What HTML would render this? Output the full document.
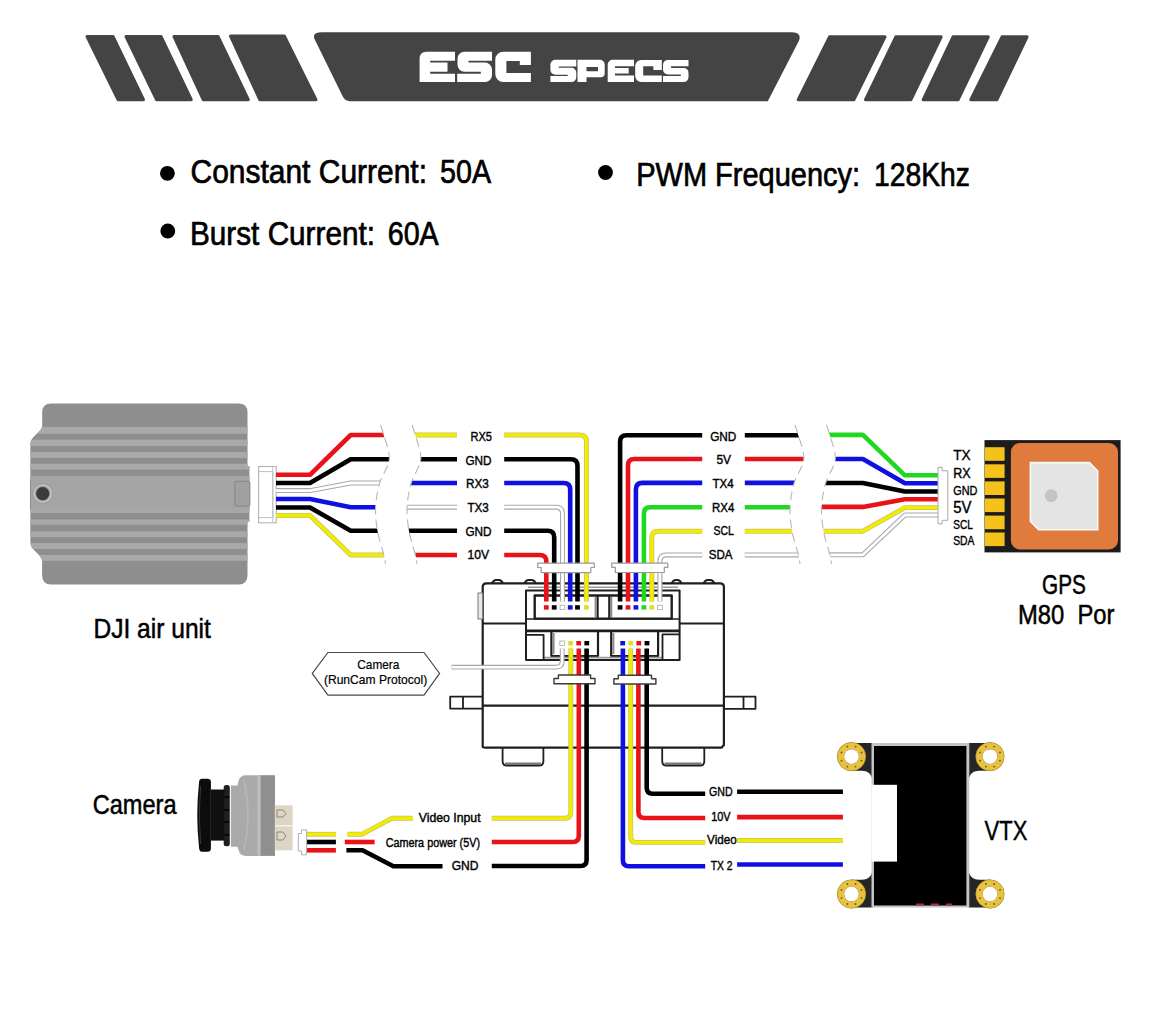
<!DOCTYPE html>
<html><head><meta charset="utf-8"><style>
html,body{margin:0;padding:0;background:#fff;width:1175px;height:1018px;overflow:hidden}
svg{display:block}
text{font-family:"Liberation Sans",sans-serif;fill:#000}
</style></head><body>
<svg width="1175" height="1018" viewBox="0 0 1175 1018">
<rect width="1175" height="1018" fill="#fff"/>
<!-- HEADER -->
<g fill="#444" stroke="#444" stroke-width="3" stroke-linejoin="round">
<polygon points="87,36.5 113,36.5 143.5,99.7 118,99.7"/>
<polygon points="126,36.5 161,36.5 191.3,99.7 156.5,99.7"/>
<polygon points="174,36.5 218,36.5 248.3,99.7 203.2,99.7"/>
<polygon points="230.5,36 284.3,36 316,99.7 259.8,99.7"/>
<polygon points="829.5,36.8 885,36.8 854,99.7 798.2,99.7"/>
<polygon points="895.8,36.8 941.2,36.8 911,99.7 865.5,99.7"/>
<polygon points="953,36.8 988.3,36.8 958.2,99.7 923.2,99.7"/>
<polygon points="1002,36.8 1027.1,36.8 997,99.7 970.8,99.7"/>
</g>
<path id="ctr" fill="#444" d="M322,32.3 H791 Q802.5,32.3 798.8,41 L767.8,101.2 H350 Q345,101.2 342.5,96 L315,40 Q311,32.3 322,32.3 Z"/>
<!-- ESC -->
<g fill="#fff">
<path d="M426.6,51.7 H455 V60.7 H430.2 V62.6 H447.5 V71.7 H430.2 V73.8 H455 V82.1 H419.6 V58.7 Q419.6,51.7 426.6,51.7 Z"/>
<path d="M464.5,51.7 H492 V60.7 H468.5 V62.6 H485 A7,7 0 0 1 492,69.6 V75.1 A7,7 0 0 1 485,82.1 H457.2 V73.8 H480.8 V71.7 H464.5 A7,7 0 0 1 457.5,64.7 V58.7 A7,7 0 0 1 464.5,51.7 Z"/>
<path d="M503.3,51.7 H530.9 V64.9 H519.8 V60.9 H506.4 V73.1 H530.9 V82.1 H503.3 A8,8 0 0 1 495.3,74.1 V59.7 A8,8 0 0 1 503.3,51.7 Z"/>
</g>
<!-- SPECS -->
<g fill="#fff">
<path d="M555.4,59.8 H576.3 V66.5 H558.7 V67.8 H571.3 A5,5 0 0 1 576.3,72.8 V77.1 A5,5 0 0 1 571.3,82.1 H550.4 V76 H567.7 V74.8 H555.4 A5,5 0 0 1 550.4,69.8 V64.8 A5,5 0 0 1 555.4,59.8 Z"/>
<path d="M577.5,59.8 H599.7 A5,5 0 0 1 604.7,64.8 V73.3 A4,4 0 0 1 600.7,77.3 H586.5 V82.1 H577.5 Z M586.5,67.1 V71.3 H598 V67.1 Z" fill-rule="evenodd"/>
<path d="M612.7,59.8 H634 V66.3 H615 V67.9 H628.7 V73.6 H615 V75.6 H634 V82.1 H607.7 V64.8 A5,5 0 0 1 612.7,59.8 Z"/>
<path d="M641.2,59.9 H661.8 V70 H653.4 V66.3 H643.2 V75.6 H661.8 V82.1 H641.2 A6,6 0 0 1 635.2,76.1 V65.9 A6,6 0 0 1 641.2,59.9 Z"/>
<path d="M668,59.9 H688.5 V66.3 H671.1 V67.9 H683.5 A5,5 0 0 1 688.5,72.9 V77.1 A5,5 0 0 1 683.5,82.1 H663 V76 H680.8 V74.4 H668 A5,5 0 0 1 663,69.4 V64.9 A5,5 0 0 1 668,59.9 Z"/>
</g>
<!-- BULLETS -->
<circle cx="167.4" cy="173.3" r="7.4" fill="#000"/>
<circle cx="167.8" cy="231" r="7.4" fill="#000"/>
<circle cx="605.5" cy="172.5" r="7.4" fill="#000"/>
<g style="font-size:33px" stroke="#000" stroke-width="0.7">
<text x="190.5" y="182.9" textLength="236.5" lengthAdjust="spacingAndGlyphs">Constant Current:</text>
<text x="440" y="182.9" textLength="51" lengthAdjust="spacingAndGlyphs">50A</text>
<text x="190" y="244.5" textLength="185" lengthAdjust="spacingAndGlyphs">Burst Current:</text>
<text x="387.7" y="244.5" textLength="51" lengthAdjust="spacingAndGlyphs">60A</text>
<text x="636.2" y="185.5" textLength="224" lengthAdjust="spacingAndGlyphs">PWM Frequency:</text>
<text x="874" y="185.5" textLength="96" lengthAdjust="spacingAndGlyphs">128Khz</text>
</g>

<defs><clipPath id="djic"><path d="M51.2,403.5 H238.5 Q247.5,403.5 247.5,412.5 V466 H249.4 V521.4 H247.5 V575.6 Q247.5,584.6 238.5,584.6 H51.1 Q42.1,584.6 42.1,575.6 V562 Q42.1,558 38,554 L33.5,549.5 Q30.4,546.5 30.4,542 V444 Q30.4,440 34,436.5 L38.5,432 Q42.2,429 42.2,426 V412.5 Q42.2,403.5 51.2,403.5 Z"/></clipPath></defs>
<path d="M51.2,403.5 H238.5 Q247.5,403.5 247.5,412.5 V466 H249.4 V521.4 H247.5 V575.6 Q247.5,584.6 238.5,584.6 H51.1 Q42.1,584.6 42.1,575.6 V562 Q42.1,558 38,554 L33.5,549.5 Q30.4,546.5 30.4,542 V444 Q30.4,440 34,436.5 L38.5,432 Q42.2,429 42.2,426 V412.5 Q42.2,403.5 51.2,403.5 Z" fill="#8e8e8e"/>
<g clip-path="url(#djic)">
<rect x="28" y="427" width="225" height="6.8" fill="#a9a9a9"/>
<rect x="28" y="439.7" width="225" height="6.4" fill="#a9a9a9"/>
<rect x="28" y="452" width="225" height="5.9" fill="#a9a9a9"/>
<rect x="28" y="463.8" width="225" height="5.9" fill="#a9a9a9"/>
<rect x="28" y="475.9" width="225" height="34.2" fill="#a9a9a9"/>
<rect x="28" y="510.1" width="225" height="2.9" fill="#a9a9a9"/>
<rect x="28" y="519.5" width="225" height="5.3" fill="#a9a9a9"/>
<rect x="28" y="531.3" width="225" height="5.9" fill="#a9a9a9"/>
<rect x="28" y="543.1" width="225" height="5.9" fill="#a9a9a9"/>
<rect x="28" y="554.9" width="225" height="5.9" fill="#a9a9a9"/>
<rect x="28" y="476.5" width="225" height="33" fill="#a5a5a5"/>
<rect x="28" y="479.4" width="2.6" height="29.5" fill="#5a5a5a"/>
</g>
<circle cx="42.7" cy="493.6" r="10.5" fill="#9c9c9c"/>
<circle cx="42.7" cy="493.6" r="8.6" fill="none" stroke="#c4c4c4" stroke-width="1.6"/>
<circle cx="42.7" cy="493.6" r="6.6" fill="#3c3c3c"/>
<rect x="234.8" y="481.4" width="15" height="24.7" rx="2" fill="#a0a0a0" stroke="#8a8a8a" stroke-width="1.2"/>
<rect x="258.6" y="466.5" width="17.6" height="56.3" fill="#fff" stroke="#b4b4b4" stroke-width="1.1"/>
<path d="M272.8,466.5 V522.8 M258.6,471.6 H272.8 M258.6,517.6 H272.8 M272.8,471.6 V517.6" stroke="#c0c0c0" stroke-width="1" fill="none"/>
<path d="M482.7,747 V587 Q482.7,583.3 486.5,583.3 H720 Q723.9,583.3 723.9,587 V745 L721.5,747.7 H485 Z" fill="none" stroke="#1e1e1e" stroke-width="2.2" stroke-linejoin="round"/>
<path d="M492,583.3 Q493.5,580 496,580 H499 Q501.5,580 503,583.3" fill="none" stroke="#1e1e1e" stroke-width="2.0" stroke-linejoin="round"/>
<path d="M524.5,583.3 Q526.0,580 528.5,580 H531.8 Q534.3,580 535.8,583.3" fill="none" stroke="#1e1e1e" stroke-width="2.0" stroke-linejoin="round"/>
<path d="M671.7,583.3 Q673.2,580 675.7,580 H677.5 Q680.0,580 681.5,583.3" fill="none" stroke="#1e1e1e" stroke-width="2.0" stroke-linejoin="round"/>
<path d="M703.6,583.3 Q705.1,580 707.6,580 H710.4 Q712.9,580 714.4,583.3" fill="none" stroke="#1e1e1e" stroke-width="2.0" stroke-linejoin="round"/>
<rect x="478" y="593" width="4.7" height="26" fill="#e8e8e8" stroke="#777" stroke-width="1"/>
<path d="M482.7,623.5 H526" fill="none" stroke="#1e1e1e" stroke-width="2.0" stroke-linejoin="round"/>
<path d="M679.6,623.5 H723.9" fill="none" stroke="#1e1e1e" stroke-width="2.0" stroke-linejoin="round"/>
<path d="M526,590.6 H679.6 V660 H526 Z" fill="none" stroke="#1e1e1e" stroke-width="2.0" stroke-linejoin="round"/>
<path d="M528,587.2 H678" fill="none" stroke="#9a9a9a" stroke-width="1.6" stroke-linejoin="round"/>
<path d="M534.7,595.5 H671.7 V618.6 H534.7 Z" fill="none" stroke="#1e1e1e" stroke-width="2.4" stroke-linejoin="round"/>
<path d="M597.6,595.5 V618.6 M609.3,595.5 V618.6" fill="none" stroke="#1e1e1e" stroke-width="2.2" stroke-linejoin="round"/>
<path d="M595.6,597 V617 M611.3,597 V617" fill="none" stroke="#8c8c8c" stroke-width="2.0" stroke-linejoin="round"/>
<path d="M526,619 H679.6" fill="none" stroke="#1e1e1e" stroke-width="1.6" stroke-linejoin="round"/>
<path d="M526,630.9 H679.6" fill="none" stroke="#1e1e1e" stroke-width="2.6" stroke-linejoin="round"/>
<path d="M551.4,630.9 V656 H598 V630.9" fill="none" stroke="#1e1e1e" stroke-width="2.2" stroke-linejoin="round"/>
<path d="M553.6,633 V654" fill="none" stroke="#8c8c8c" stroke-width="2.0" stroke-linejoin="round"/>
<path d="M611.2,630.9 V656 H658.1 V630.9" fill="none" stroke="#1e1e1e" stroke-width="2.2" stroke-linejoin="round"/>
<path d="M613.4,633 V654" fill="none" stroke="#8c8c8c" stroke-width="2.0" stroke-linejoin="round"/>
<path d="M543.6,657.6 H662.5" fill="none" stroke="#9a9a9a" stroke-width="1.6" stroke-linejoin="round"/>
<path d="M526,634.8 H543.6 V660" fill="none" stroke="#1e1e1e" stroke-width="1.8" stroke-linejoin="round"/>
<path d="M679.6,634.3 H662.5 V660" fill="none" stroke="#1e1e1e" stroke-width="1.8" stroke-linejoin="round"/>
<path d="M482.8,705.6 H723.9" fill="none" stroke="#1e1e1e" stroke-width="2.2" stroke-linejoin="round"/>
<path d="M482.8,696.6 H450.2 V708.7 H482.8 M463,696.6 V708.7" fill="none" stroke="#1e1e1e" stroke-width="1.8" stroke-linejoin="round"/>
<path d="M723.9,696.7 H755.5 V708.8 H723.9 M743.5,696.7 V708.8" fill="none" stroke="#1e1e1e" stroke-width="1.8" stroke-linejoin="round"/>
<path d="M502.6,748 V761 Q502.6,765.6 507,765.6 H539 Q543.4,765.6 543.4,761 V748" fill="none" stroke="#1e1e1e" stroke-width="1.8" stroke-linejoin="round"/>
<rect x="505" y="762.5" width="36" height="2.5" fill="#777"/>
<path d="M662.2,748 V761 Q662.2,765.6 666.6,765.6 H700 Q704.3,765.6 704.3,761 V748" fill="none" stroke="#1e1e1e" stroke-width="1.8" stroke-linejoin="round"/>
<rect x="664.5" y="762.5" width="37" height="2.5" fill="#777"/>
<path d="M276,474.8 H310 L350.7,435.0 H395" fill="none" stroke="#e8121a" stroke-width="4.6" stroke-linecap="butt" stroke-linejoin="round"/>
<path d="M276,483.0 H310 L350.7,459.2 H395" fill="none" stroke="#000" stroke-width="4.6" stroke-linecap="butt" stroke-linejoin="round"/>
<path d="M276,490.6 H310 L350.7,483.0 H395" fill="none" stroke="#a8a8a8" stroke-width="5.0" stroke-linecap="butt" stroke-linejoin="round"/>
<path d="M276,490.6 H310 L350.7,483.0 H395" fill="none" stroke="#fff" stroke-width="2.8" stroke-linecap="butt" stroke-linejoin="round"/>
<path d="M276,499.0 H310 L350.7,507.2 H395" fill="none" stroke="#1010e0" stroke-width="4.6" stroke-linecap="butt" stroke-linejoin="round"/>
<path d="M276,507.5 H310 L350.7,530.8 H395" fill="none" stroke="#000" stroke-width="4.6" stroke-linecap="butt" stroke-linejoin="round"/>
<path d="M276,515.5 H310 L350.7,555.0 H395" fill="none" stroke="#c8c070" stroke-width="4.8999999999999995" stroke-linecap="butt" stroke-linejoin="round"/>
<path d="M276,515.5 H310 L350.7,555.0 H395" fill="none" stroke="#f2ec00" stroke-width="3.3999999999999995" stroke-linecap="butt" stroke-linejoin="round"/>
<path d="M400,435.0 H457" fill="none" stroke="#c8c070" stroke-width="4.8999999999999995" stroke-linecap="butt" stroke-linejoin="round"/>
<path d="M400,435.0 H457" fill="none" stroke="#f2ec00" stroke-width="3.3999999999999995" stroke-linecap="butt" stroke-linejoin="round"/>
<path d="M400,459.2 H457" fill="none" stroke="#000" stroke-width="4.6" stroke-linecap="butt" stroke-linejoin="round"/>
<path d="M400,483.0 H457" fill="none" stroke="#1010e0" stroke-width="4.6" stroke-linecap="butt" stroke-linejoin="round"/>
<path d="M400,507.2 H457" fill="none" stroke="#a8a8a8" stroke-width="5.0" stroke-linecap="butt" stroke-linejoin="round"/>
<path d="M400,507.2 H457" fill="none" stroke="#fff" stroke-width="2.8" stroke-linecap="butt" stroke-linejoin="round"/>
<path d="M400,530.8 H457" fill="none" stroke="#000" stroke-width="4.6" stroke-linecap="butt" stroke-linejoin="round"/>
<path d="M400,555.0 H457" fill="none" stroke="#e8121a" stroke-width="4.6" stroke-linecap="butt" stroke-linejoin="round"/>
<path d="M380.5,425.0 C381.0,426.5 381.9,428.3 383.4,434.0 C384.9,439.7 389.9,450.8 389.3,459.0 C388.7,467.2 382.0,475.0 379.7,483.0 C377.4,491.0 376.0,499.0 375.6,507.0 C375.2,515.0 376.1,523.0 377.5,531.0 C378.9,539.0 382.6,549.5 383.9,555.0 C385.2,560.5 385.2,562.5 385.5,564.0 L417.0,564.0 417.0,564.0 C416.7,562.5 416.7,560.5 415.4,555.0 C414.1,549.5 410.4,539.0 409.0,531.0 C407.6,523.0 406.7,515.0 407.1,507.0 C407.5,499.0 408.9,491.0 411.2,483.0 C413.5,475.0 420.2,467.2 420.8,459.0 C421.4,450.8 416.4,439.7 414.9,434.0 C413.4,428.3 412.5,426.5 412.0,425.0 Z" fill="#fff"/>
<path d="M380.5,425.0 C381.0,426.5 381.9,428.3 383.4,434.0 C384.9,439.7 389.9,450.8 389.3,459.0 C388.7,467.2 382.0,475.0 379.7,483.0 C377.4,491.0 376.0,499.0 375.6,507.0 C375.2,515.0 376.1,523.0 377.5,531.0 C378.9,539.0 382.6,549.5 383.9,555.0 C385.2,560.5 385.2,562.5 385.5,564.0" fill="none" stroke="#b8b8b8" stroke-width="1.1" stroke-dasharray="9,5"/>
<path d="M412.0,425.0 C412.5,426.5 413.4,428.3 414.9,434.0 C416.4,439.7 421.4,450.8 420.8,459.0 C420.2,467.2 413.5,475.0 411.2,483.0 C408.9,491.0 407.5,499.0 407.1,507.0 C406.7,515.0 407.6,523.0 409.0,531.0 C410.4,539.0 414.1,549.5 415.4,555.0 C416.7,560.5 416.7,562.5 417.0,564.0" fill="none" stroke="#b8b8b8" stroke-width="1.1" stroke-dasharray="9,5"/>
<path d="M504.2,435.0 H579.9 Q586.4,435.0 586.4,441.5 V601.4" fill="none" stroke="#c8c070" stroke-width="4.8999999999999995" stroke-linecap="butt" stroke-linejoin="round"/>
<path d="M504.2,435.0 H579.9 Q586.4,435.0 586.4,441.5 V601.4" fill="none" stroke="#f2ec00" stroke-width="3.3999999999999995" stroke-linecap="butt" stroke-linejoin="round"/>
<rect x="584.0" y="605.2" width="4.8" height="4.4" fill="#dede20" stroke="none" stroke-width="0.8"/>
<path d="M504.2,459.2 H571.0 Q577.5,459.2 577.5,465.7 V601.4" fill="none" stroke="#000" stroke-width="4.6" stroke-linecap="butt" stroke-linejoin="round"/>
<rect x="575.1" y="605.2" width="4.8" height="4.4" fill="#000" stroke="none" stroke-width="0.8"/>
<path d="M504.2,483.0 H563.7 Q570.2,483.0 570.2,489.5 V601.4" fill="none" stroke="#1010e0" stroke-width="4.6" stroke-linecap="butt" stroke-linejoin="round"/>
<rect x="567.8" y="605.2" width="4.8" height="4.4" fill="#1010e0" stroke="none" stroke-width="0.8"/>
<path d="M504.2,507.2 H556.0 Q562.5,507.2 562.5,513.7 V601.4" fill="none" stroke="#a8a8a8" stroke-width="5.0" stroke-linecap="butt" stroke-linejoin="round"/>
<path d="M504.2,507.2 H556.0 Q562.5,507.2 562.5,513.7 V601.4" fill="none" stroke="#fff" stroke-width="2.8" stroke-linecap="butt" stroke-linejoin="round"/>
<rect x="560.1" y="605.2" width="4.8" height="4.4" fill="#fff" stroke="#aaa" stroke-width="0.8"/>
<path d="M504.2,530.8 H547.7 Q554.2,530.8 554.2,537.3 V601.4" fill="none" stroke="#000" stroke-width="4.6" stroke-linecap="butt" stroke-linejoin="round"/>
<rect x="551.8" y="605.2" width="4.8" height="4.4" fill="#000" stroke="none" stroke-width="0.8"/>
<path d="M504.2,555.0 H539.8 Q546.3,555.0 546.3,561.5 V601.4" fill="none" stroke="#e8121a" stroke-width="4.6" stroke-linecap="butt" stroke-linejoin="round"/>
<rect x="543.9" y="605.2" width="4.8" height="4.4" fill="#e8121a" stroke="none" stroke-width="0.8"/>
<path d="M620.1,601.4 V441.7 Q620.1,435.2 626.6,435.2 H702.2" fill="none" stroke="#000" stroke-width="4.6" stroke-linecap="butt" stroke-linejoin="round"/>
<rect x="617.7" y="605.2" width="4.8" height="4.4" fill="#000" stroke="none" stroke-width="0.8"/>
<path d="M628.0,601.4 V465.5 Q628.0,459.0 634.5,459.0 H702.2" fill="none" stroke="#e8121a" stroke-width="4.6" stroke-linecap="butt" stroke-linejoin="round"/>
<rect x="625.6" y="605.2" width="4.8" height="4.4" fill="#e8121a" stroke="none" stroke-width="0.8"/>
<path d="M635.9,601.4 V489.4 Q635.9,482.9 642.4,482.9 H702.2" fill="none" stroke="#1010e0" stroke-width="4.6" stroke-linecap="butt" stroke-linejoin="round"/>
<rect x="633.5" y="605.2" width="4.8" height="4.4" fill="#1010e0" stroke="none" stroke-width="0.8"/>
<path d="M643.9,601.4 V513.7 Q643.9,507.2 650.4,507.2 H702.2" fill="none" stroke="#20d820" stroke-width="4.6" stroke-linecap="butt" stroke-linejoin="round"/>
<rect x="641.5" y="605.2" width="4.8" height="4.4" fill="#20d820" stroke="none" stroke-width="0.8"/>
<path d="M651.8,601.4 V537.7 Q651.8,531.2 658.3,531.2 H702.2" fill="none" stroke="#c8c070" stroke-width="4.8999999999999995" stroke-linecap="butt" stroke-linejoin="round"/>
<path d="M651.8,601.4 V537.7 Q651.8,531.2 658.3,531.2 H702.2" fill="none" stroke="#f2ec00" stroke-width="3.3999999999999995" stroke-linecap="butt" stroke-linejoin="round"/>
<rect x="649.4" y="605.2" width="4.8" height="4.4" fill="#dede20" stroke="none" stroke-width="0.8"/>
<path d="M659.9,601.4 V561.4 Q659.9,554.9 666.4,554.9 H702.2" fill="none" stroke="#a8a8a8" stroke-width="5.0" stroke-linecap="butt" stroke-linejoin="round"/>
<path d="M659.9,601.4 V561.4 Q659.9,554.9 666.4,554.9 H702.2" fill="none" stroke="#fff" stroke-width="2.8" stroke-linecap="butt" stroke-linejoin="round"/>
<rect x="657.5" y="605.2" width="4.8" height="4.4" fill="#fff" stroke="#aaa" stroke-width="0.8"/>
<path d="M744.8,435.2 H810" fill="none" stroke="#000" stroke-width="4.6" stroke-linecap="butt" stroke-linejoin="round"/>
<path d="M744.8,459.0 H810" fill="none" stroke="#e8121a" stroke-width="4.6" stroke-linecap="butt" stroke-linejoin="round"/>
<path d="M744.8,482.9 H810" fill="none" stroke="#1010e0" stroke-width="4.6" stroke-linecap="butt" stroke-linejoin="round"/>
<path d="M744.8,507.2 H810" fill="none" stroke="#20d820" stroke-width="4.6" stroke-linecap="butt" stroke-linejoin="round"/>
<path d="M744.8,531.2 H810" fill="none" stroke="#c8c070" stroke-width="4.8999999999999995" stroke-linecap="butt" stroke-linejoin="round"/>
<path d="M744.8,531.2 H810" fill="none" stroke="#f2ec00" stroke-width="3.3999999999999995" stroke-linecap="butt" stroke-linejoin="round"/>
<path d="M744.8,554.9 H810" fill="none" stroke="#a8a8a8" stroke-width="5.0" stroke-linecap="butt" stroke-linejoin="round"/>
<path d="M744.8,554.9 H810" fill="none" stroke="#fff" stroke-width="2.8" stroke-linecap="butt" stroke-linejoin="round"/>
<path d="M815,434.9 H862.9 L904.9,475.3 H939" fill="none" stroke="#20d820" stroke-width="4.6" stroke-linecap="butt" stroke-linejoin="round"/>
<path d="M815,459.0 H862.9 L904.9,483.3 H939" fill="none" stroke="#1010e0" stroke-width="4.6" stroke-linecap="butt" stroke-linejoin="round"/>
<path d="M815,483.0 H862.9 L904.9,491.5 H939" fill="none" stroke="#000" stroke-width="4.6" stroke-linecap="butt" stroke-linejoin="round"/>
<path d="M815,506.9 H862.9 L904.9,499.3 H939" fill="none" stroke="#e8121a" stroke-width="4.6" stroke-linecap="butt" stroke-linejoin="round"/>
<path d="M815,531.2 H862.9 L904.9,507.6 H939" fill="none" stroke="#c8c070" stroke-width="4.8999999999999995" stroke-linecap="butt" stroke-linejoin="round"/>
<path d="M815,531.2 H862.9 L904.9,507.6 H939" fill="none" stroke="#f2ec00" stroke-width="3.3999999999999995" stroke-linecap="butt" stroke-linejoin="round"/>
<path d="M815,554.8 H862.9 L904.9,515.0 H939" fill="none" stroke="#a8a8a8" stroke-width="5.0" stroke-linecap="butt" stroke-linejoin="round"/>
<path d="M815,554.8 H862.9 L904.9,515.0 H939" fill="none" stroke="#fff" stroke-width="2.8" stroke-linecap="butt" stroke-linejoin="round"/>
<path d="M795.0,425.0 C795.5,426.5 796.4,428.3 797.9,434.0 C799.4,439.7 804.4,450.8 803.8,459.0 C803.2,467.2 796.5,475.0 794.2,483.0 C791.9,491.0 790.5,499.0 790.1,507.0 C789.7,515.0 790.6,523.0 792.0,531.0 C793.4,539.0 797.1,549.5 798.4,555.0 C799.7,560.5 799.7,562.5 800.0,564.0 L831.5,564.0 831.5,564.0 C831.2,562.5 831.2,560.5 829.9,555.0 C828.6,549.5 824.9,539.0 823.5,531.0 C822.1,523.0 821.2,515.0 821.6,507.0 C822.0,499.0 823.4,491.0 825.7,483.0 C828.0,475.0 834.7,467.2 835.3,459.0 C835.9,450.8 830.9,439.7 829.4,434.0 C827.9,428.3 827.0,426.5 826.5,425.0 Z" fill="#fff"/>
<path d="M795.0,425.0 C795.5,426.5 796.4,428.3 797.9,434.0 C799.4,439.7 804.4,450.8 803.8,459.0 C803.2,467.2 796.5,475.0 794.2,483.0 C791.9,491.0 790.5,499.0 790.1,507.0 C789.7,515.0 790.6,523.0 792.0,531.0 C793.4,539.0 797.1,549.5 798.4,555.0 C799.7,560.5 799.7,562.5 800.0,564.0" fill="none" stroke="#b8b8b8" stroke-width="1.1" stroke-dasharray="9,5"/>
<path d="M826.5,425.0 C827.0,426.5 827.9,428.3 829.4,434.0 C830.9,439.7 835.9,450.8 835.3,459.0 C834.7,467.2 828.0,475.0 825.7,483.0 C823.4,491.0 822.0,499.0 821.6,507.0 C821.2,515.0 822.1,523.0 823.5,531.0 C824.9,539.0 828.6,549.5 829.9,555.0 C831.2,560.5 831.2,562.5 831.5,564.0" fill="none" stroke="#b8b8b8" stroke-width="1.1" stroke-dasharray="9,5"/>
<path d="M938,467.3 H942.2 V470.8 H947.8 V520.3 H942.2 V523.8 H938 Z" fill="#fff" stroke="#a8a8a8" stroke-width="1"/>
<path d="M537.7,563.2 H594.3 V567.5 H590.8 V572.6 H541.2 V567.5 H537.7 Z" fill="#fff" stroke="#9a9a9a" stroke-width="1.2" stroke-linejoin="round"/>
<path d="M611.8,563.1 H667.8 V567.4 H664.3 V572.5 H615.3 V567.4 H611.8 Z" fill="#fff" stroke="#9a9a9a" stroke-width="1.2" stroke-linejoin="round"/>
<rect x="559.8" y="641" width="4.8" height="4.4" fill="#fff" stroke="#aaa" stroke-width="0.8"/>
<rect x="568.2" y="641" width="4.8" height="4.4" fill="#dede20" stroke="none" stroke-width="0.8"/>
<rect x="576.3" y="641" width="4.8" height="4.4" fill="#e8121a" stroke="none" stroke-width="0.8"/>
<rect x="584.4" y="641" width="4.8" height="4.4" fill="#000" stroke="none" stroke-width="0.8"/>
<rect x="620.3" y="641" width="4.8" height="4.4" fill="#1010e0" stroke="none" stroke-width="0.8"/>
<rect x="628.4" y="641" width="4.8" height="4.4" fill="#dede20" stroke="none" stroke-width="0.8"/>
<rect x="636.4" y="641" width="4.8" height="4.4" fill="#e8121a" stroke="none" stroke-width="0.8"/>
<rect x="644.6" y="641" width="4.8" height="4.4" fill="#000" stroke="none" stroke-width="0.8"/>
<path d="M562.2,648.6 V661 Q562.2,667.2 556,667.2 H451.5" fill="none" stroke="#a8a8a8" stroke-width="4.800000000000001" stroke-linecap="butt" stroke-linejoin="round"/>
<path d="M562.2,648.6 V661 Q562.2,667.2 556,667.2 H451.5" fill="none" stroke="#fff" stroke-width="2.6000000000000005" stroke-linecap="butt" stroke-linejoin="round"/>
<path d="M570.8,648.6 V812.2 Q570.8,818.2 564.8,818.2 H491.8" fill="none" stroke="#c8c070" stroke-width="4.8999999999999995" stroke-linecap="butt" stroke-linejoin="round"/>
<path d="M570.8,648.6 V812.2 Q570.8,818.2 564.8,818.2 H491.8" fill="none" stroke="#f2ec00" stroke-width="3.3999999999999995" stroke-linecap="butt" stroke-linejoin="round"/>
<path d="M578.8,648.6 V836.0 Q578.8,842.0 572.8,842.0 H491.8" fill="none" stroke="#e8121a" stroke-width="4.6" stroke-linecap="butt" stroke-linejoin="round"/>
<path d="M586.6,648.6 V860.0 Q586.6,866.0 580.6,866.0 H491.8" fill="none" stroke="#000" stroke-width="4.6" stroke-linecap="butt" stroke-linejoin="round"/>
<path d="M646.7,648.6 V787.7 Q646.7,793.7 652.7,793.7 H705.2" fill="none" stroke="#000" stroke-width="4.6" stroke-linecap="butt" stroke-linejoin="round"/>
<path d="M737.1,791.8 H842.9" fill="none" stroke="#000" stroke-width="4.6" stroke-linecap="butt" stroke-linejoin="round"/>
<path d="M638.4,648.6 V812.0 Q638.4,818.0 644.4,818.0 H705.2" fill="none" stroke="#e8121a" stroke-width="4.6" stroke-linecap="butt" stroke-linejoin="round"/>
<path d="M737.1,817.1 H842.9" fill="none" stroke="#e8121a" stroke-width="4.6" stroke-linecap="butt" stroke-linejoin="round"/>
<path d="M630.7,648.6 V836.4 Q630.7,842.4 636.7,842.4 H705.2" fill="none" stroke="#c8c070" stroke-width="4.8999999999999995" stroke-linecap="butt" stroke-linejoin="round"/>
<path d="M630.7,648.6 V836.4 Q630.7,842.4 636.7,842.4 H705.2" fill="none" stroke="#f2ec00" stroke-width="3.3999999999999995" stroke-linecap="butt" stroke-linejoin="round"/>
<path d="M737.1,840.5 H842.9" fill="none" stroke="#c8c070" stroke-width="4.8999999999999995" stroke-linecap="butt" stroke-linejoin="round"/>
<path d="M737.1,840.5 H842.9" fill="none" stroke="#f2ec00" stroke-width="3.3999999999999995" stroke-linecap="butt" stroke-linejoin="round"/>
<path d="M622.9,648.6 V860.3 Q622.9,866.3 628.9,866.3 H705.2" fill="none" stroke="#1010e0" stroke-width="4.6" stroke-linecap="butt" stroke-linejoin="round"/>
<path d="M737.1,864.5 H842.9" fill="none" stroke="#1010e0" stroke-width="4.6" stroke-linecap="butt" stroke-linejoin="round"/>
<path d="M558.4,675 H590.6 V678.5 H595 V683.8 H554 V678.5 H558.4 Z" fill="#fff" stroke="#3a3a3a" stroke-width="1.4" stroke-linejoin="round"/>
<path d="M618.3,675.2 H651.5 V678.7 H655.9 V684.0 H613.9 V678.7 H618.3 Z" fill="#fff" stroke="#3a3a3a" stroke-width="1.4" stroke-linejoin="round"/>
<polygon points="312.3,673.4 327.9,652.5 424,652.5 439.6,673.4 424,695.2 327.9,695.2" fill="#fff" stroke="#4a4a4a" stroke-width="1.2"/>
<rect x="260" y="775.2" width="15" height="80.7" fill="#8f8f8f"/>
<path d="M246,775.2 H260.5 V855.9 H246 Q240,855.9 238.5,850 L237.5,846.7 H230.9 V785.4 H237.5 L238.5,781 Q240,775.2 246,775.2 Z" fill="#aaaaaa"/>
<path d="M244,781 Q252,815 244,850" fill="none" stroke="#b8b8b8" stroke-width="1.5"/>
<rect x="257.5" y="775.2" width="3" height="80.7" fill="#bdbdbd"/>
<rect x="274.8" y="805.3" width="17.9" height="20" fill="#ddd5c6"/>
<rect x="274.8" y="826.3" width="17.9" height="24" fill="#ddd5c6"/>
<path d="M277,810 H283 L286,813.5 L283,817 H277 Z M277,832 H283 L286,836 L283,840 H277 Z" fill="none" stroke="#8a7e70" stroke-width="0.9"/>
<rect x="223.7" y="784.9" width="6.1" height="61.3" rx="2.5" fill="#1f1f1f"/>
<path d="M224.5,797 H229 M224.5,810 H229 M224.5,822 H229 M224.5,835 H229" stroke="#050505" stroke-width="2"/>
<rect x="210.9" y="789.5" width="13.3" height="51.1" fill="#101010"/>
<path d="M202,778.8 H207.5 Q210.9,778.8 210.9,782 V848.6 Q210.9,851.8 207.5,851.8 H202 Q199,851.8 199,847 Q195.5,815 199,783 Q199,778.8 202,778.8 Z" fill="#0c0c0c"/>
<path d="M200.5,786 Q198,815 200.5,844" fill="none" stroke="#3a3a3a" stroke-width="1"/>
<path d="M306.6,834.3 H335.9" fill="none" stroke="#c8c070" stroke-width="4.8999999999999995" stroke-linecap="butt" stroke-linejoin="round"/>
<path d="M306.6,834.3 H335.9" fill="none" stroke="#f2ec00" stroke-width="3.3999999999999995" stroke-linecap="butt" stroke-linejoin="round"/>
<path d="M306.6,842.0 H335.9" fill="none" stroke="#000" stroke-width="4.6" stroke-linecap="butt" stroke-linejoin="round"/>
<path d="M306.6,850.3 H335.9" fill="none" stroke="#e8121a" stroke-width="4.6" stroke-linecap="butt" stroke-linejoin="round"/>
<path d="M347.5,834.3 H361.9 L391.8,818.3 H412.8" fill="none" stroke="#c8c070" stroke-width="4.8999999999999995" stroke-linecap="butt" stroke-linejoin="round"/>
<path d="M347.5,834.3 H361.9 L391.8,818.3 H412.8" fill="none" stroke="#f2ec00" stroke-width="3.3999999999999995" stroke-linecap="butt" stroke-linejoin="round"/>
<path d="M344.8,842.0 H374.6" fill="none" stroke="#e8121a" stroke-width="4.6" stroke-linecap="butt" stroke-linejoin="round"/>
<path d="M346.4,850.3 H362.5 L393.4,866.2 H442.5" fill="none" stroke="#000" stroke-width="4.6" stroke-linecap="butt" stroke-linejoin="round"/>
<path d="M301.5,829.9 H306.6 V854.8 H301.5 V851 H298.3 V833.5 H301.5 Z" fill="#fff" stroke="#b0b0b0" stroke-width="1"/>
<path d="M851.5,743.1 H872.5 V782.8000000000001 Q872.5,770.8000000000001 861.5,770.8000000000001 H851.5 Z" fill="#262626"/>
<circle cx="851.5" cy="756.6" r="14.2" fill="#262626"/>
<path d="M851.5,907.5 H872.5 V867.8 Q872.5,879.8 861.5,879.8 H851.5 Z" fill="#262626"/>
<circle cx="851.5" cy="894.0" r="14.2" fill="#262626"/>
<path d="M990.0,743.1 H968.5 V782.8000000000001 Q968.5,770.8000000000001 979.5,770.8000000000001 H990.0 Z" fill="#262626"/>
<circle cx="990.0" cy="756.6" r="14.2" fill="#262626"/>
<path d="M990.0,907.5 H968.5 V867.8 Q968.5,879.8 979.5,879.8 H990.0 Z" fill="#262626"/>
<circle cx="990.0" cy="894.0" r="14.2" fill="#262626"/>
<rect x="871.5" y="743" width="97.8" height="164.5" fill="#c4c4c4"/>
<rect x="874" y="746" width="92.4" height="159.5" fill="#000"/>
<rect x="871.5" y="784.8" width="25.5" height="76.8" fill="#fff"/>
<path d="M916,904.5 H924 M931,904.5 H939 M946,904.5 H952" stroke="#b03040" stroke-width="1.8"/>
<circle cx="851.5" cy="756.6" r="10.8" fill="none" stroke="#e8c23e" stroke-width="6.8"/>
<circle cx="851.5" cy="756.6" r="14.2" fill="none" stroke="#b89a30" stroke-width="0.6"/>
<circle cx="851.5" cy="756.6" r="7.4" fill="#fff"/>
<circle cx="861.5" cy="760.7" r="0.9" fill="#6a5418"/>
<circle cx="855.6" cy="766.6" r="0.9" fill="#6a5418"/>
<circle cx="847.4" cy="766.6" r="0.9" fill="#6a5418"/>
<circle cx="841.5" cy="760.7" r="0.9" fill="#6a5418"/>
<circle cx="841.5" cy="752.5" r="0.9" fill="#6a5418"/>
<circle cx="847.4" cy="746.6" r="0.9" fill="#6a5418"/>
<circle cx="855.6" cy="746.6" r="0.9" fill="#6a5418"/>
<circle cx="861.5" cy="752.5" r="0.9" fill="#6a5418"/>
<circle cx="851.5" cy="894.0" r="10.8" fill="none" stroke="#e8c23e" stroke-width="6.8"/>
<circle cx="851.5" cy="894.0" r="14.2" fill="none" stroke="#b89a30" stroke-width="0.6"/>
<circle cx="851.5" cy="894.0" r="7.4" fill="#fff"/>
<circle cx="861.5" cy="898.1" r="0.9" fill="#6a5418"/>
<circle cx="855.6" cy="904.0" r="0.9" fill="#6a5418"/>
<circle cx="847.4" cy="904.0" r="0.9" fill="#6a5418"/>
<circle cx="841.5" cy="898.1" r="0.9" fill="#6a5418"/>
<circle cx="841.5" cy="889.9" r="0.9" fill="#6a5418"/>
<circle cx="847.4" cy="884.0" r="0.9" fill="#6a5418"/>
<circle cx="855.6" cy="884.0" r="0.9" fill="#6a5418"/>
<circle cx="861.5" cy="889.9" r="0.9" fill="#6a5418"/>
<circle cx="990.0" cy="756.6" r="10.8" fill="none" stroke="#e8c23e" stroke-width="6.8"/>
<circle cx="990.0" cy="756.6" r="14.2" fill="none" stroke="#b89a30" stroke-width="0.6"/>
<circle cx="990.0" cy="756.6" r="7.4" fill="#fff"/>
<circle cx="1000.0" cy="760.7" r="0.9" fill="#6a5418"/>
<circle cx="994.1" cy="766.6" r="0.9" fill="#6a5418"/>
<circle cx="985.9" cy="766.6" r="0.9" fill="#6a5418"/>
<circle cx="980.0" cy="760.7" r="0.9" fill="#6a5418"/>
<circle cx="980.0" cy="752.5" r="0.9" fill="#6a5418"/>
<circle cx="985.9" cy="746.6" r="0.9" fill="#6a5418"/>
<circle cx="994.1" cy="746.6" r="0.9" fill="#6a5418"/>
<circle cx="1000.0" cy="752.5" r="0.9" fill="#6a5418"/>
<circle cx="990.0" cy="894.0" r="10.8" fill="none" stroke="#e8c23e" stroke-width="6.8"/>
<circle cx="990.0" cy="894.0" r="14.2" fill="none" stroke="#b89a30" stroke-width="0.6"/>
<circle cx="990.0" cy="894.0" r="7.4" fill="#fff"/>
<circle cx="1000.0" cy="898.1" r="0.9" fill="#6a5418"/>
<circle cx="994.1" cy="904.0" r="0.9" fill="#6a5418"/>
<circle cx="985.9" cy="904.0" r="0.9" fill="#6a5418"/>
<circle cx="980.0" cy="898.1" r="0.9" fill="#6a5418"/>
<circle cx="980.0" cy="889.9" r="0.9" fill="#6a5418"/>
<circle cx="985.9" cy="884.0" r="0.9" fill="#6a5418"/>
<circle cx="994.1" cy="884.0" r="0.9" fill="#6a5418"/>
<circle cx="1000.0" cy="889.9" r="0.9" fill="#6a5418"/>
<rect x="984.5" y="440.1" width="136.1" height="112.3" fill="#1c1c1c"/>
<rect x="984.8" y="447.2" width="19.8" height="13.6" fill="#f4c21a"/>
<rect x="984.8" y="464.3" width="19.8" height="13.6" fill="#f4c21a"/>
<rect x="984.8" y="481.4" width="19.8" height="13.6" fill="#f4c21a"/>
<rect x="984.8" y="498.5" width="19.8" height="13.6" fill="#f4c21a"/>
<rect x="984.8" y="515.6" width="19.8" height="13.6" fill="#f4c21a"/>
<rect x="984.8" y="532.5" width="19.8" height="13.6" fill="#f4c21a"/>
<rect x="1010.9" y="443" width="107.1" height="106.4" rx="9" fill="#df7b3c"/>
<path d="M1030.4,462.6 H1089.5 L1097.7,471 V529.8 H1038.8 L1030.4,521.4 Z" fill="#e4e4e4" stroke="#fafafa" stroke-width="1.6"/>
<circle cx="1051.2" cy="495.7" r="6.4" fill="#c4c4c4"/>
<text x="470.5" y="441.3" font-size="13.2" textLength="21.5" lengthAdjust="spacingAndGlyphs" stroke="#000" stroke-width="0.4" xml:space="preserve">RX5</text>
<text x="465.4" y="464.6" font-size="13.2" textLength="26.2" lengthAdjust="spacingAndGlyphs" stroke="#000" stroke-width="0.4" xml:space="preserve">GND</text>
<text x="465.9" y="488.1" font-size="13.2" textLength="22.9" lengthAdjust="spacingAndGlyphs" stroke="#000" stroke-width="0.4" xml:space="preserve">RX3</text>
<text x="467.4" y="511.9" font-size="13.2" textLength="21.4" lengthAdjust="spacingAndGlyphs" stroke="#000" stroke-width="0.4" xml:space="preserve">TX3</text>
<text x="465.4" y="535.7" font-size="13.2" textLength="26.2" lengthAdjust="spacingAndGlyphs" stroke="#000" stroke-width="0.4" xml:space="preserve">GND</text>
<text x="467.4" y="559.2" font-size="13.2" textLength="21.7" lengthAdjust="spacingAndGlyphs" stroke="#000" stroke-width="0.4" xml:space="preserve">10V</text>
<text x="710.1999999999999" y="440.6" font-size="13.2" textLength="26.2" lengthAdjust="spacingAndGlyphs" stroke="#000" stroke-width="0.4" xml:space="preserve">GND</text>
<text x="716.4" y="464.3" font-size="13.2" textLength="14.7" lengthAdjust="spacingAndGlyphs" stroke="#000" stroke-width="0.4" xml:space="preserve">5V</text>
<text x="712.4" y="487.9" font-size="13.2" textLength="21.4" lengthAdjust="spacingAndGlyphs" stroke="#000" stroke-width="0.4" xml:space="preserve">TX4</text>
<text x="712.0" y="512" font-size="13.2" textLength="22.3" lengthAdjust="spacingAndGlyphs" stroke="#000" stroke-width="0.4" xml:space="preserve">RX4</text>
<text x="713.4" y="535.3" font-size="13.2" textLength="20.4" lengthAdjust="spacingAndGlyphs" stroke="#000" stroke-width="0.4" xml:space="preserve">SCL</text>
<text x="708.8" y="559" font-size="13.2" textLength="23.7" lengthAdjust="spacingAndGlyphs" stroke="#000" stroke-width="0.4" xml:space="preserve">SDA</text>
<text x="709.0" y="795.9" font-size="12.5" textLength="23.6" lengthAdjust="spacingAndGlyphs" stroke="#000" stroke-width="0.4" xml:space="preserve">GND</text>
<text x="711.1999999999999" y="820.8" font-size="12.5" textLength="19.5" lengthAdjust="spacingAndGlyphs" stroke="#000" stroke-width="0.4" xml:space="preserve">10V</text>
<text x="707.1" y="843.9" font-size="12.5" textLength="29.6" lengthAdjust="spacingAndGlyphs" stroke="#000" stroke-width="0.4" xml:space="preserve">Video</text>
<text x="710.8" y="870" font-size="12.5" textLength="21.8" lengthAdjust="spacingAndGlyphs" stroke="#000" stroke-width="0.4" xml:space="preserve">TX 2</text>
<text x="418.7" y="821.6" font-size="12.5" textLength="61.9" lengthAdjust="spacingAndGlyphs" stroke="#000" stroke-width="0.4" xml:space="preserve">Video Input</text>
<text x="385.7" y="847" font-size="12.5" textLength="94.3" lengthAdjust="spacingAndGlyphs" stroke="#000" stroke-width="0.4" xml:space="preserve">Camera power (5V)</text>
<text x="451.7" y="870" font-size="12.5" textLength="26.8" lengthAdjust="spacingAndGlyphs" stroke="#000" stroke-width="0.4" xml:space="preserve">GND</text>
<text x="953.2" y="459.7" font-size="15.4" textLength="17.4" lengthAdjust="spacingAndGlyphs" stroke="#000" stroke-width="0.4" xml:space="preserve">TX</text>
<text x="953.2" y="477.9" font-size="14.2" textLength="17.4" lengthAdjust="spacingAndGlyphs" stroke="#000" stroke-width="0.4" xml:space="preserve">RX</text>
<text x="953.2" y="494.9" font-size="13.1" textLength="24.2" lengthAdjust="spacingAndGlyphs" stroke="#000" stroke-width="0.4" xml:space="preserve">GND</text>
<text x="953.2" y="512.8" font-size="16.2" textLength="18.3" lengthAdjust="spacingAndGlyphs" stroke="#000" stroke-width="0.4" xml:space="preserve">5V</text>
<text x="953.2" y="528.6" font-size="12.6" textLength="19.6" lengthAdjust="spacingAndGlyphs" stroke="#000" stroke-width="0.4" xml:space="preserve">SCL</text>
<text x="953.2" y="545.1" font-size="13.1" textLength="21.3" lengthAdjust="spacingAndGlyphs" stroke="#000" stroke-width="0.4" xml:space="preserve">SDA</text>
<text x="357.3" y="668.9" font-size="12.7" textLength="42.1" lengthAdjust="spacingAndGlyphs" stroke="#000" stroke-width="0.2" xml:space="preserve">Camera</text>
<text x="323.9" y="683.6" font-size="12.7" textLength="103.4" lengthAdjust="spacingAndGlyphs" stroke="#000" stroke-width="0.2" xml:space="preserve">(RunCam Protocol)</text>
<text x="93.4" y="638.3" font-size="27.1" textLength="117.5" lengthAdjust="spacingAndGlyphs" stroke="#000" stroke-width="0.5" xml:space="preserve">DJI air unit</text>
<text x="92.7" y="814.1" font-size="27.1" textLength="83.9" lengthAdjust="spacingAndGlyphs" stroke="#000" stroke-width="0.5" xml:space="preserve">Camera</text>
<text x="1042" y="594.3" font-size="27.8" textLength="43.8" lengthAdjust="spacingAndGlyphs" stroke="#000" stroke-width="0.5" xml:space="preserve">GPS</text>
<text x="1018" y="624.2" font-size="27.1" textLength="96.5" lengthAdjust="spacingAndGlyphs" stroke="#000" stroke-width="0.5" xml:space="preserve">M80  Por</text>
<text x="984.6" y="839.7" font-size="26.8" textLength="42.8" lengthAdjust="spacingAndGlyphs" stroke="#000" stroke-width="0.4" xml:space="preserve">VTX</text>
</svg>
</body></html>
